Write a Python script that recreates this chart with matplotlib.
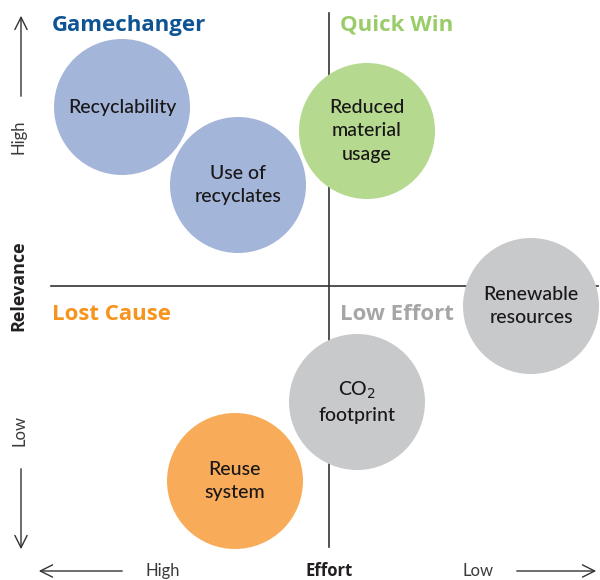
import matplotlib
matplotlib.use('Agg')
import matplotlib.pyplot as plt
from matplotlib.patches import Circle

# bubble data: effort (x, right = low effort), relevance (y, up = high)
labels = ['Recyclability', 'Use of\nrecyclates', 'Reduced\nmaterial\nusage',
          'Renewable\nresources', 'CO$_2$\nfootprint', 'Reuse\nsystem']
effort = [-207, -91, 38, 202, 28, -94]
relevance = [179, 101, 155, -20, -116, -195]
colors = ['#A3B5D8', '#A3B5D8', '#B5D98F', '#C8C9CB', '#C8C9CB', '#F8AC59']
radius = 68

quad_names = ['Gamechanger', 'Quick Win', 'Lost Cause', 'Low Effort']
quad_colors = ['#0E5495', '#9ACD6A', '#F7941D', '#A6A6A6']
quad_pos = [(-277, 261), (11, 261), (-277, -28), (11, -28)]

plt.rcParams['font.family'] = ['Lato', 'DejaVu Sans']

fig = plt.figure(figsize=(6, 5.8), dpi=100)
ax = fig.add_axes([0, 0, 1, 1])
ax.set_xlim(-329, 271)
ax.set_ylim(-294, 286)
ax.axis('off')

# quadrant lines
ax.plot([0, 0], [273, -261], color='#333333', lw=1.2)
ax.plot([-278, 269], [0, 0], color='#333333', lw=1.2)

for x, y, c, lab in zip(effort, relevance, colors, labels):
    ax.add_patch(Circle((x, y), radius, color=c, lw=0, zorder=2))
    ax.text(x, y, lab, ha='center', va='center', fontsize=14,
            fontweight='medium', color='#1A1718', linespacing=1.45, zorder=3)

for name, c, (x, y) in zip(quad_names, quad_colors, quad_pos):
    ax.text(x, y, name, ha='left', va='center', fontsize=16,
            fontweight='bold', color=c, family=['Open Sans', 'DejaVu Sans'], zorder=4)

arrow = dict(arrowstyle='->', color='#333333', lw=1, mutation_scale=22)
# vertical axis
ax.annotate('', xy=(-308, 273), xytext=(-308, 187), arrowprops=arrow)
ax.annotate('', xy=(-308, -266), xytext=(-308, -180), arrowprops=arrow)
ax.text(-310, 149, 'High', rotation=90, ha='center', va='center',
        fontsize=12, color='#3A3A3A')
ax.text(-310, -145, 'Low', rotation=90, ha='center', va='center',
        fontsize=12, color='#3A3A3A')
ax.text(-311, 0, 'Relevance', rotation=90, ha='center', va='center',
        fontsize=13, fontweight='bold', color='#231F20',
        family=['Open Sans', 'DejaVu Sans'])

# horizontal axis
ax.annotate('', xy=(-293, -285), xytext=(-204, -285), arrowprops=arrow)
ax.annotate('', xy=(270, -285), xytext=(185, -285), arrowprops=arrow)
ax.text(-166, -285, 'High', ha='center', va='center', fontsize=12,
        color='#3A3A3A')
ax.text(149, -285, 'Low', ha='center', va='center', fontsize=12,
        color='#3A3A3A')
ax.text(0, -285, 'Effort', ha='center', va='center', fontsize=12,
        fontweight='bold', color='#231F20', family=['Open Sans', 'DejaVu Sans'])

fig.savefig('out.png', dpi=100, facecolor='white')
